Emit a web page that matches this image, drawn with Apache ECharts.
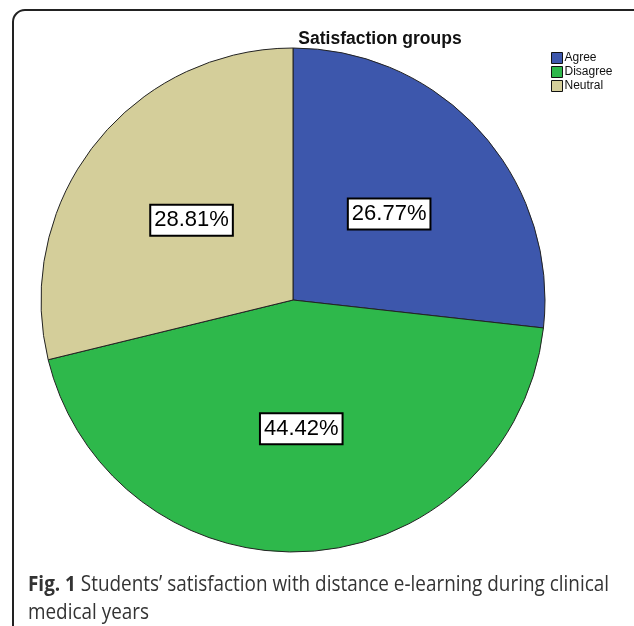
<!DOCTYPE html>
<html>
<head>
<meta charset="utf-8">
<script src="https://cdn.jsdelivr.net/npm/echarts@6/dist/echarts.min.js"></script>
<style>
  html, body { margin: 0; padding: 0; background: #fff; }
  #chart { width: 634px; height: 626px; }
</style>
</head>
<body>
<div id="chart"></div>
<script>
const groups = ['Agree', 'Disagree', 'Neutral']
const shares = [26.77, 44.42, 28.81]
const colors = ['#3D57AC', '#2EB84B', '#D4CE9A']

const chart = echarts.init(document.getElementById('chart'))

const option = {
  animation: false,
  title: {
    text: 'Satisfaction groups',
    left: 375,
    top: 25,
    textAlign: 'center',
    textStyle: { fontFamily: 'Liberation Sans', fontSize: 17.5, fontWeight: 'bold', color: '#111' }
  },
  legend: {
    orient: 'vertical',
    left: 546,
    top: 46,
    itemWidth: 11,
    itemHeight: 11,
    itemGap: 0,
    icon: 'rect',
    textStyle: { fontFamily: 'Liberation Sans', fontSize: 12, lineHeight: 14, color: '#111', padding: [0, 0, 0, -3] },
    itemStyle: { borderColor: '#111', borderWidth: 1 },
    data: groups
  },
  // rounded frame and caption
  graphic: [
    {
      type: 'rect',
      shape: { x: 13, y: 10, width: 700, height: 700, r: 12 },
      style: { fill: 'none', stroke: '#222', lineWidth: 2 },
      silent: true
    },
    {
      type: 'text',
      x: 28,
      y: 571,
      scaleX: 0.9,
      style: {
        text: '{b|Fig. 1} Students’ satisfaction with distance e-learning during clinical\nmedical years',
        font: '21px "Open Sans"',
        fill: '#333',
        lineHeight: 28,
        rich: {
          b: { font: 'bold 21px "Open Sans"', fill: '#333' }
        }
      }
    }
  ],
  series: [{
    type: 'pie',
    center: [293, 300],
    radius: [0, 252],
    startAngle: 90,
    clockwise: true,
    silent: true,
    itemStyle: { borderColor: '#222', borderWidth: 1 },
    label: {
      position: 'inside',
      formatter: '{c}%',
      fontFamily: 'Liberation Sans',
      fontSize: 22,
      color: '#000',
      backgroundColor: '#fff',
      borderColor: '#000',
      borderWidth: 2,
      padding: [4, 3, 3, 3]
    },
    labelLine: { show: false },
    data: groups.map((g, i) => ({ name: g, value: shares[i], itemStyle: { color: colors[i] } }))
  }]
}

chart.setOption(option)
</script>
</body>
</html>
